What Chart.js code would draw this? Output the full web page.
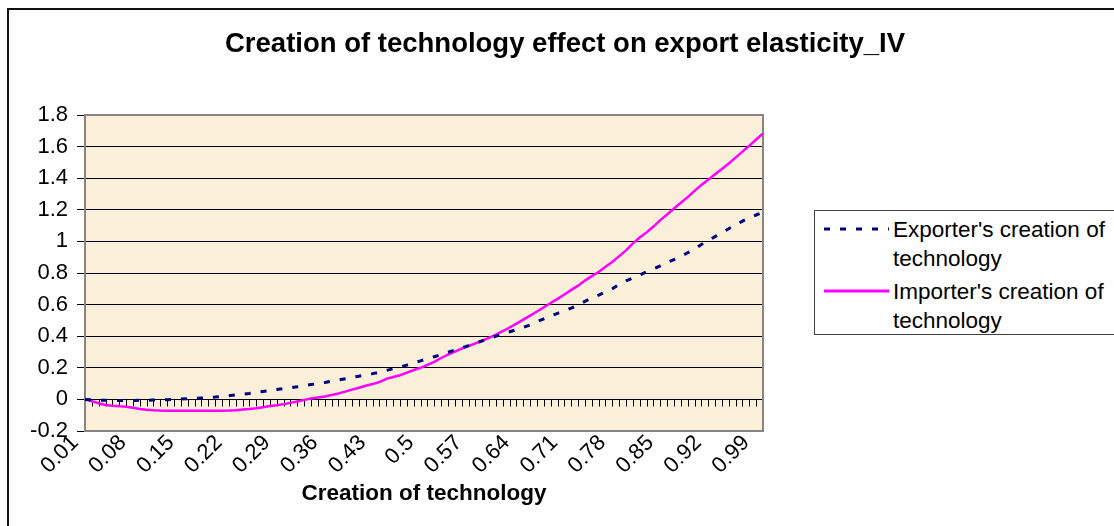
<!DOCTYPE html>
<html>
<head>
<meta charset="utf-8">
<script src="https://cdn.jsdelivr.net/npm/chart.js@4/dist/chart.umd.min.js"></script>
<style>
  html, body { margin:0; padding:0; background:#fff; }
  body { width:1114px; height:526px; overflow:hidden; position:relative; font-family:'Liberation Sans', Arial, sans-serif; }
  #c { position:absolute; left:0; top:0; }
  #frame { position:absolute; left:7px; top:8px; width:1200px; height:600px; border-left:2px solid #111; border-top:2px solid #111; pointer-events:none; }
  #legend { position:absolute; left:814px; top:210px; width:320px; height:123px; border:1px solid #404040; background:#fff; }
  .lt { position:absolute; left:78px; font-size:22.5px; line-height:29px; color:#000; white-space:nowrap; }
  .ls { position:absolute; left:8px; }
</style>
</head>
<body>
<canvas id="c" width="1130" height="526"></canvas>
<div id="frame"></div>
<div id="legend">
  <svg class="ls" style="top:14px" width="68" height="8"><line x1="1" y1="4" x2="66" y2="4" stroke="#000080" stroke-width="3" stroke-dasharray="6 10"/></svg>
  <div class="lt" id="lt0" style="top:4px"></div>
  <svg class="ls" style="top:76px" width="68" height="8"><line x1="1" y1="4" x2="66" y2="4" stroke="#FF00FF" stroke-width="3"/></svg>
  <div class="lt" id="lt1" style="top:66px"></div>
</div>
<script>
const TITLE = "Creation of technology effect on export elasticity_IV";
const X_TITLE = "Creation of technology";
const SERIES_NAMES = ["Exporter's creation of\ntechnology", "Importer's creation of\ntechnology"];
const CATEGORIES = [0.01,0.02,0.03,0.04,0.05,0.06,0.07,0.08,0.09,0.1,
  0.11,0.12,0.13,0.14,0.15,0.16,0.17,0.18,0.19,0.2,
  0.21,0.22,0.23,0.24,0.25,0.26,0.27,0.28,0.29,0.3,
  0.31,0.32,0.33,0.34,0.35,0.36,0.37,0.38,0.39,0.4,
  0.41,0.42,0.43,0.44,0.45,0.46,0.47,0.48,0.49,0.5,
  0.51,0.52,0.53,0.54,0.55,0.56,0.57,0.58,0.59,0.6,
  0.61,0.62,0.63,0.64,0.65,0.66,0.67,0.68,0.69,0.7,
  0.71,0.72,0.73,0.74,0.75,0.76,0.77,0.78,0.79,0.8,
  0.81,0.82,0.83,0.84,0.85,0.86,0.87,0.88,0.89,0.9,
  0.91,0.92,0.93,0.94,0.95,0.96,0.97,0.98,0.99,1];
const X_TICK_LABELS = ['0.01','0.08','0.15','0.22','0.29','0.36','0.43','0.5','0.57','0.64','0.71','0.78','0.85','0.92','0.99'];
const Y_TICKS = [-0.2,0,0.2,0.4,0.6,0.8,1,1.2,1.4,1.6,1.8];
const EXPORTER = [0.000,-0.003,-0.005,-0.006,-0.007,-0.007,-0.007,-0.007,-0.006,-0.005,
  -0.004,-0.003,-0.002,0.000,0.002,0.004,0.006,0.009,0.012,0.015,
  0.019,0.023,0.028,0.033,0.038,0.044,0.050,0.056,0.062,0.068,
  0.074,0.080,0.087,0.094,0.100,0.107,0.115,0.123,0.131,0.139,
  0.147,0.155,0.163,0.172,0.183,0.194,0.204,0.217,0.231,0.244,
  0.257,0.270,0.284,0.298,0.312,0.326,0.340,0.355,0.370,0.385,
  0.400,0.415,0.428,0.441,0.455,0.472,0.492,0.510,0.528,0.545,
  0.560,0.578,0.598,0.620,0.642,0.660,0.680,0.700,0.728,0.750,
  0.768,0.788,0.808,0.825,0.845,0.866,0.885,0.905,0.928,0.950,
  0.980,1.005,1.030,1.055,1.080,1.105,1.128,1.150,1.167,1.185];
const IMPORTER = [0.000,-0.012,-0.024,-0.035,-0.040,-0.044,-0.047,-0.053,-0.061,-0.066,
  -0.069,-0.071,-0.072,-0.072,-0.072,-0.072,-0.072,-0.072,-0.072,-0.072,
  -0.072,-0.071,-0.068,-0.064,-0.061,-0.056,-0.049,-0.042,-0.037,-0.030,
  -0.022,-0.013,-0.003,0.006,0.012,0.019,0.028,0.037,0.049,0.062,
  0.074,0.086,0.097,0.110,0.130,0.142,0.153,0.169,0.186,0.200,
  0.218,0.238,0.262,0.284,0.302,0.321,0.338,0.355,0.372,0.390,
  0.410,0.432,0.455,0.480,0.505,0.530,0.556,0.583,0.610,0.636,
  0.664,0.693,0.720,0.752,0.780,0.806,0.840,0.870,0.907,0.943,
  0.988,1.025,1.057,1.094,1.135,1.170,1.208,1.245,1.280,1.320,
  1.357,1.390,1.425,1.458,1.493,1.530,1.568,1.605,1.645,1.684];

document.getElementById('lt0').innerText = SERIES_NAMES[0];
document.getElementById('lt1').innerText = SERIES_NAMES[1];

Chart.defaults.font.family = "'Liberation Sans', Arial, sans-serif";
Chart.defaults.color = '#000';

const plotDeco = {
  id: 'plotDeco',
  beforeDraw(chart) {
    const a = chart.chartArea, ctx = chart.ctx;
    ctx.save();
    ctx.fillStyle = '#FAEFD8';
    ctx.fillRect(a.left, a.top, a.right - a.left, a.bottom - a.top);
    ctx.restore();
  },
  beforeDatasetsDraw(chart) {
    const a = chart.chartArea, ctx = chart.ctx;
    const x = chart.scales.x, y = chart.scales.y;
    const y0 = Math.round(y.getPixelForValue(0)) + 0.5;
    ctx.save();
    ctx.strokeStyle = '#000';
    ctx.lineWidth = 1;
    ctx.beginPath();
    ctx.moveTo(a.left, y0); ctx.lineTo(a.right, y0);
    for (let i = 0; i < CATEGORIES.length; i++) {
      const px = Math.round(x.getPixelForValue(i)) + 0.5;
      ctx.moveTo(px, y0); ctx.lineTo(px, y0 + 7);
    }
    ctx.stroke();
    ctx.strokeStyle = '#858585';
    ctx.lineWidth = 2;
    ctx.strokeRect(a.left, a.top, a.right - a.left, a.bottom - a.top);
    ctx.restore();
  }
};

new Chart(document.getElementById('c'), {
  type: 'line',
  data: {
    labels: CATEGORIES.map(String),
    datasets: [
      { label: SERIES_NAMES[0], data: EXPORTER, borderColor: '#000080', borderWidth: 3, borderDash: [6, 10], pointRadius: 0, fill: false, tension: 0 },
      { label: SERIES_NAMES[1], data: IMPORTER, borderColor: '#FF00FF', borderWidth: 2.5, pointRadius: 0, fill: false, tension: 0 }
    ]
  },
  options: {
    responsive: false,
    animation: false,
    layout: { padding: 0 },
    plugins: {
      legend: { display: false },
      tooltip: { enabled: false },
      title: { display: true, text: TITLE, color: '#000', font: { size: 27.5, weight: 'bold' }, padding: { top: 28, bottom: 54 } }
    },
    scales: {
      x: {
        type: 'category', offset: false,
        grid: { display: false }, border: { display: false },
        ticks: {
          autoSkip: false, minRotation: 45, maxRotation: 45, padding: -9, labelOffset: -10,
          font: { size: 22 }, color: '#000',
          callback(v) { const l = this.getLabelForValue(v); return X_TICK_LABELS.includes(l) ? l : ''; }
        },
        title: { display: true, text: X_TITLE, color: '#000', font: { size: 22.5, weight: 'bold' }, padding: { top: 0, bottom: 19 } },
        afterFit(s) { s.height = 95; }
      },
      y: {
        min: -0.2, max: 1.8,
        afterBuildTicks(s) { s.ticks = Y_TICKS.map(v => ({ value: v })); },
        ticks: { font: { size: 22 }, color: '#000', padding: 9, callback: v => String(Math.round(v * 10) / 10) },
        grid: { color: '#000', lineWidth: 1, tickLength: 8, tickColor: '#000' },
        border: { display: false },
        afterFit(s) { s.width = 85; }
      },
      y2: {
        position: 'right', min: 0, max: 1,
        ticks: { display: false }, grid: { display: false }, border: { display: false },
        afterFit(s) { s.width = 367; }
      }
    }
  },
  plugins: [plotDeco]
});
</script>
</body>
</html>
